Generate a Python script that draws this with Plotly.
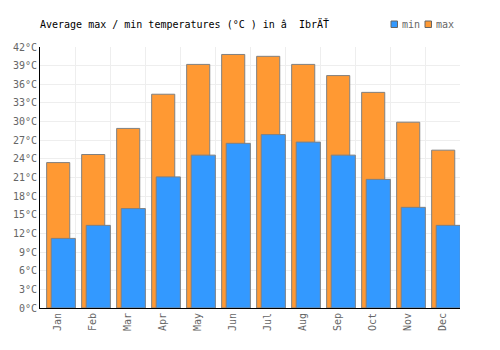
import plotly.graph_objects as go

months = ["Jan", "Feb", "Mar", "Apr", "May", "Jun", "Jul", "Aug", "Sep", "Oct", "Nov", "Dec"]
t_max = [23.4, 24.7, 28.9, 34.4, 39.2, 40.8, 40.5, 39.2, 37.4, 34.7, 29.9, 25.4]
t_min = [11.2, 13.3, 16.0, 21.1, 24.6, 26.5, 27.9, 26.7, 24.6, 20.7, 16.2, 13.3]
y_ticks = list(range(0, 43, 3))
title = "Average max / min temperatures (°C ) in â\u00a0 IbrÄŤ"
series_names = ["min", "max"]
series_colors = ["#3399ff", "#ff9933"]

FONT = "DejaVu Sans Mono"

fig = go.Figure()
fig.add_trace(go.Bar(
    x=months, y=t_max, name="max",
    marker=dict(color=series_colors[1], line=dict(color="#808080", width=1)),
    offset=-0.31, width=0.66,
))
fig.add_trace(go.Bar(
    x=months, y=t_min, name="min",
    marker=dict(color=series_colors[0], line=dict(color="#808080", width=1)),
    offset=-0.18, width=0.69,
))

# plot area: x 40..460, y 47..308 in pixels
def px_x(p):
    return (p - 40) / 420.0

def px_y(p):
    return (308 - p) / 261.0

legend_x = [391, 425]
for name, col, lx in zip(series_names, series_colors, legend_x):
    fig.add_shape(type="rect", xref="paper", yref="paper",
                  x0=px_x(lx), x1=px_x(lx + 6.5), y0=px_y(27.5), y1=px_y(21),
                  fillcolor=col, line=dict(color="#666666", width=1))
    fig.add_annotation(text=name, xref="paper", yref="paper", x=px_x(lx + 9), y=px_y(24.5),
                       xanchor="left", yanchor="middle", showarrow=False,
                       font=dict(family=FONT, size=10, color="#666666"))

fig.update_layout(
    width=500, height=350,
    margin=dict(l=40, r=40, t=47, b=42, autoexpand=False),
    paper_bgcolor="white", plot_bgcolor="white",
    barmode="overlay", showlegend=False,
    font=dict(family=FONT, size=10, color="#666666"),
    title=dict(text=title, x=0.08, xanchor="left", y=1 - 24 / 350, yanchor="middle",
               font=dict(family=FONT, size=10, color="#000000")),
    xaxis=dict(type="category", tickson="boundaries", showgrid=True, gridcolor="#eeeeee",
               showline=True, linecolor="#000000", linewidth=1, ticks="", tickangle=-90,
               range=[-0.5, 11.5], fixedrange=True, automargin=False),
    yaxis=dict(range=[0, 42], tickvals=y_ticks, ticktext=[f"{v}°C" for v in y_ticks],
               showgrid=True, gridcolor="#eeeeee", showline=True, linecolor="#000000",
               linewidth=1, ticks="", zeroline=False, fixedrange=True, automargin=False),
)

fig.write_html("out.html")
